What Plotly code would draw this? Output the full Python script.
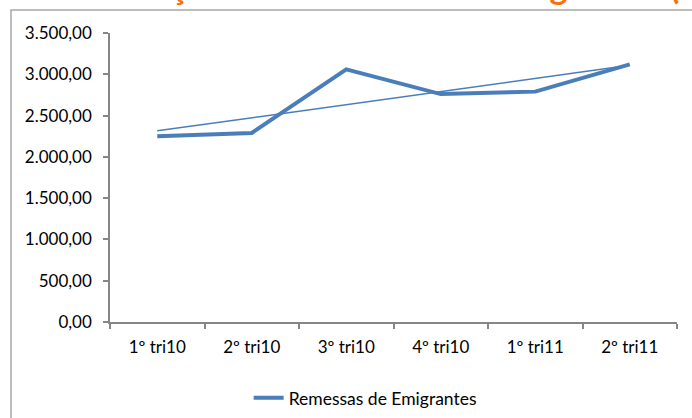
import numpy as np
import plotly.graph_objects as go

categories = ["1º tri10", "2º tri10", "3º tri10", "4º tri10", "1º tri11", "2º tri11"]
remessas = [2250, 2290, 3060, 2760, 2790, 3120]
y_ticks = [0, 500, 1000, 1500, 2000, 2500, 3000, 3500]
title_text = "Evolução das Remessas de Emigrantes (milhões de euros)"
series_name = "Remessas de Emigrantes"

line_color = "#4A7EBB"
axis_color = "#868686"
font_family = "Lato, 'Open Sans', sans-serif"

# linear trendline computed from the series
xi = np.arange(len(remessas))
slope, intercept = np.polyfit(xi, remessas, 1)
trend = list(slope * xi + intercept)

fig = go.Figure()
fig.add_trace(go.Scatter(
    x=categories, y=trend, mode="lines",
    line=dict(color=line_color, width=1.5),
    showlegend=False, hoverinfo="skip",
))
fig.add_trace(go.Scatter(
    x=categories, y=remessas, mode="lines", name=series_name,
    line=dict(color=line_color, width=4),
))

fig.update_layout(
    width=692, height=418,
    margin=dict(l=110, r=15, t=33, b=96),
    paper_bgcolor="white", plot_bgcolor="white",
    separators=",.",
    font=dict(family=font_family, size=17, color="#000000"),
    showlegend=True,
    legend=dict(orientation="h", xref="paper", yref="container",
                x=0.45, y=0.048, xanchor="center", yanchor="middle",
                font=dict(size=17.5), bgcolor="rgba(0,0,0,0)"),
    xaxis=dict(
        type="category", range=[-0.5, 5.5], tickson="boundaries",
        showline=True, linecolor=axis_color, linewidth=1.5,
        ticks="outside", ticklen=5, tickcolor=axis_color, tickwidth=1.5,
        showgrid=False, zeroline=False, ticklabelstandoff=9,
    ),
    yaxis=dict(
        range=[0, 3500], tickvals=y_ticks, tickformat=",.2f",
        showline=True, linecolor=axis_color, linewidth=1.5,
        ticks="outside", ticklen=5, tickcolor=axis_color, tickwidth=1.5,
        showgrid=False, zeroline=False, ticklabelstandoff=8,
    ),
    shapes=[dict(
        type="rect", xref="paper", yref="paper",
        x0=-0.1746, x1=1.3, y0=-0.6, y1=1.0796,
        line=dict(color="#A6A6A6", width=1.5), fillcolor="rgba(0,0,0,0)", layer="below",
    )],
    annotations=[dict(
        text="<b>" + title_text + "</b>", xref="paper", yref="paper",
        x=-0.044, y=1.087, xanchor="left", yanchor="bottom", showarrow=False,
        font=dict(family=font_family, size=34, color="#F7720F"),
    )],
)

fig.write_html("out.html")
